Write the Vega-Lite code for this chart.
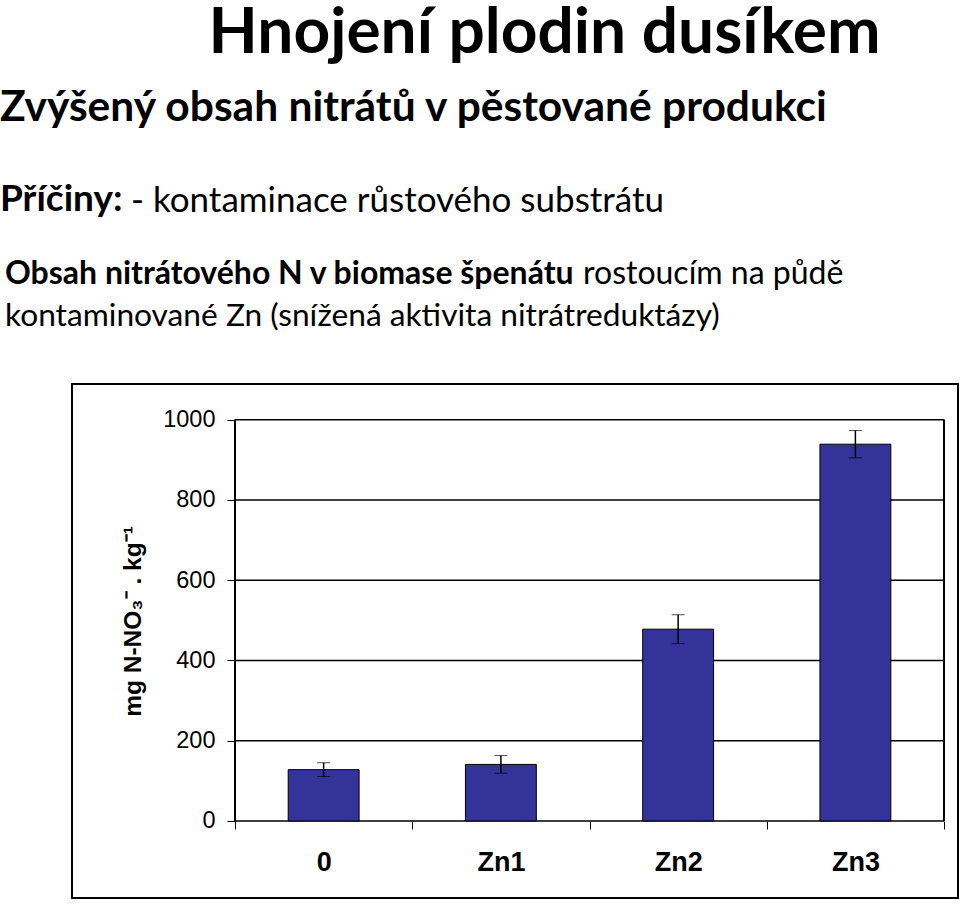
{
  "$schema": "https://vega.github.io/schema/vega-lite/v6.json",
  "background": "white",
  "padding": {"top": 2, "left": 0, "right": 0, "bottom": 0},
  "spacing": 0,
  "config": {
    "view": {"stroke": null},
    "concat": {"spacing": 0},
    "title": {"font": "Lato", "color": "black", "baseline": "alphabetic", "frame": "group"}
  },
  "datasets": {
    "bars": [
      {"treatment": "0", "value": 128, "err": 17},
      {"treatment": "Zn1", "value": 141, "err": 22},
      {"treatment": "Zn2", "value": 478, "err": 36},
      {"treatment": "Zn3", "value": 939, "err": 34}
    ],
    "gridlines": [
      {"level": 0}, {"level": 200}, {"level": 400}, {"level": 600}, {"level": 800}, {"level": 1000}
    ]
  },
  "vconcat": [
    {
      "width": 957, "height": 5.4,
      "data": {"values": []},
      "mark": "point",
      "title": {"text": "Hnojení plodin dusíkem", "fontSize": 64, "fontWeight": "bold", "anchor": "middle", "offset": 14, "dx": 66}
    },
    {
      "width": 957, "height": 41.4,
      "data": {"values": []},
      "mark": "point",
      "title": {"text": "Zvýšený obsah nitrátů v pěstované produkci", "fontSize": 42.5, "fontWeight": "bold", "anchor": "start", "offset": 10}
    },
    {
      "spacing": 8,
      "hconcat": [
        {
          "width": 1, "height": 30.6,
          "data": {"values": []},
          "mark": "point",
          "title": {"text": "Příčiny:", "fontSize": 37, "fontWeight": "bold", "anchor": "start", "offset": 8}
        },
        {
          "width": 1, "height": 30.6,
          "data": {"values": []},
          "mark": "point",
          "title": {"text": "- kontaminace růstového substrátu", "fontSize": 35, "fontWeight": "normal", "anchor": "start", "offset": 8}
        }
      ]
    },
    {
      "spacing": 7,
      "hconcat": [
        {
          "width": 1, "height": 2.6,
          "data": {"values": []},
          "mark": "point",
          "title": {"text": "Obsah nitrátového N v biomase špenátu", "fontSize": 32, "fontWeight": "bold", "anchor": "start", "offset": 7, "dx": 5}
        },
        {
          "width": 1, "height": 2.6,
          "data": {"values": []},
          "mark": "point",
          "title": {"text": "rostoucím na půdě", "fontSize": 32, "fontWeight": "normal", "anchor": "start", "offset": 7}
        }
      ]
    },
    {
      "width": 957, "height": 43,
      "data": {"values": []},
      "mark": "point",
      "title": {"text": "kontaminované Zn (snížená aktivita nitrátreduktázy)", "fontSize": 31.7, "fontWeight": "normal", "anchor": "start", "offset": 7, "dx": 5}
    },
    {
      "spacing": 0,
      "hconcat": [
        {
          "width": 71, "height": 1,
          "data": {"values": []},
          "mark": "point"
        },
        {
          "width": 886, "height": 514,
          "view": {"stroke": "black", "strokeWidth": 2},
          "data": {"name": "bars"},
          "encoding": {
            "x": {
              "field": "treatment", "type": "nominal",
              "scale": {"domain": ["0", "Zn1", "Zn2", "Zn3"], "paddingInner": 0, "paddingOuter": 0.4993, "align": 0.921},
              "axis": {"orient": "bottom", "offset": -77, "domain": false, "grid": false, "tickBand": "extent", "tickSize": 8, "tickColor": "black", "tickWidth": 1, "labelFont": "Liberation Sans", "labelFontSize": 27, "labelFontWeight": "bold", "labelColor": "black", "labelPadding": 20, "labelAngle": 0, "title": null}
            }
          },
          "layer": [
            {
              "data": {"name": "gridlines"},
              "mark": {"type": "rule", "color": "black", "strokeWidth": 1.5},
              "encoding": {
                "x": {"datum": "0", "bandPosition": 0},
                "x2": {"datum": "Zn3", "bandPosition": 1},
                "y": {"field": "level", "type": "quantitative", "title": "mg N-NO₃⁻ . kg⁻¹"}
              }
            },
            {
              "mark": {"type": "bar", "color": "#333399", "stroke": "black", "strokeWidth": 1, "width": {"band": 0.4}},
              "encoding": {
                "y": {
                  "field": "value", "type": "quantitative", "title": "mg N-NO₃⁻ . kg⁻¹",
                  "scale": {"domain": [-191.9, 1089], "nice": false, "zero": false},
                  "axis": {"orient": "left", "offset": -163, "domain": false, "grid": false, "values": [0, 200, 400, 600, 800, 1000], "format": "d", "tickSize": 8, "tickColor": "black", "tickWidth": 1, "labelFont": "Liberation Sans", "labelFontSize": 23.5, "labelColor": "black", "labelPadding": 12, "title": "mg N-NO₃⁻ . kg⁻¹", "titleFont": "Liberation Sans", "titleFontSize": 24.5, "titleFontWeight": "bold", "titleColor": "black", "titleX": -102, "titleY": 237, "titleAngle": -90, "titleAlign": "center", "titleBaseline": "middle"}
                }
              }
            },
            {
              "mark": {"type": "errorbar", "ticks": {"size": 13, "color": "black", "strokeWidth": 1.5}, "rule": {"color": "black", "strokeWidth": 1.5}},
              "encoding": {
                "y": {"field": "value", "type": "quantitative", "title": "mg N-NO₃⁻ . kg⁻¹"},
                "yError": {"field": "err"}
              }
            },
            {
              "mark": {"type": "rule", "color": "black", "strokeWidth": 1.5},
              "encoding": {
                "x": {"datum": "0", "bandPosition": 0},
                "y": {"datum": 0},
                "y2": {"datum": 1000}
              }
            },
            {
              "mark": {"type": "rule", "color": "black", "strokeWidth": 1.5},
              "encoding": {
                "x": {"datum": "Zn3", "bandPosition": 1},
                "y": {"datum": 0},
                "y2": {"datum": 1000}
              }
            }
          ]
        }
      ]
    }
  ]
}
